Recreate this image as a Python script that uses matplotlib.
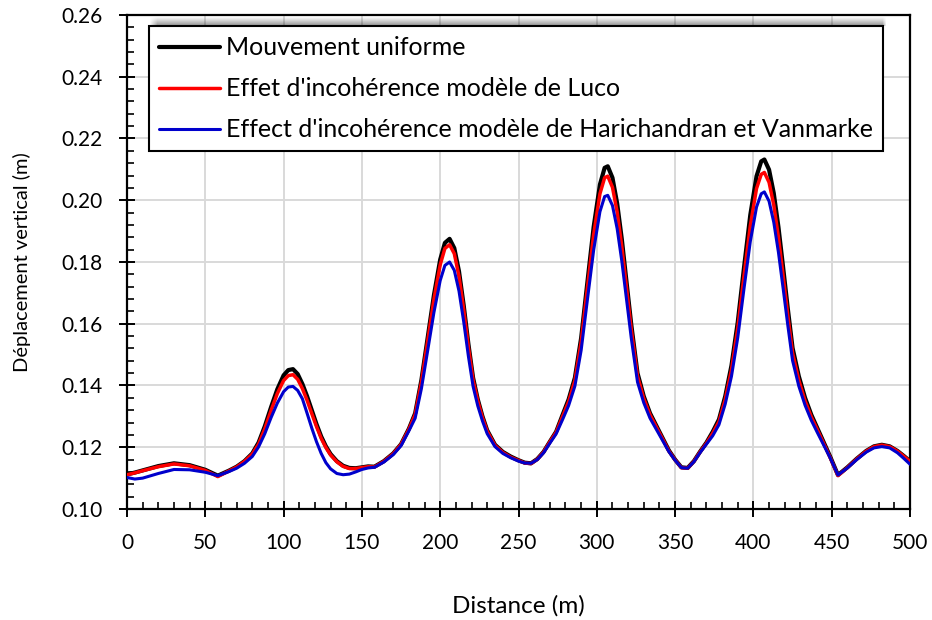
import matplotlib
matplotlib.use("Agg")
import numpy as np
import matplotlib.pyplot as plt
from matplotlib.ticker import MultipleLocator, FormatStrFormatter
from matplotlib.legend_handler import HandlerLine2D
from matplotlib.lines import Line2D

plt.rcParams['font.family'] = ['Lato', 'DejaVu Sans']

distance = [0, 5, 10, 20, 30, 40, 50, 58, 65, 70, 75, 80, 84, 88, 92, 96, 100, 103, 106, 109,
            112, 115, 118, 121, 124, 127, 130, 134, 138, 142, 146, 150, 154, 158, 164, 170, 175, 180, 184, 188,
            192, 196, 200, 203, 206, 209, 212, 215, 218, 221, 224, 227, 230, 235, 240, 245, 250, 254, 258, 262,
            266, 270, 274, 278, 282, 286, 290, 294, 298, 302, 305, 307, 310, 313, 316, 319, 322, 326, 330, 334,
            338, 342, 346, 350, 354, 358, 362, 366, 370, 374, 378, 382, 386, 390, 394, 398, 402, 405, 407, 410,
            413, 416, 419, 422, 425, 429, 433, 437, 441, 445, 449, 454, 460, 466, 472, 477, 482, 487, 492, 496, 500]

uniforme = [0.1112, 0.1118, 0.1125, 0.1139, 0.1148, 0.1142, 0.1127, 0.1108, 0.1124, 0.1137, 0.1155, 0.1180, 0.1215, 0.1268, 0.1330, 0.1388, 0.1433, 0.1450, 0.1453, 0.1437,
            0.1405, 0.1365, 0.1320, 0.1275, 0.1235, 0.1203, 0.1178, 0.1155, 0.1140, 0.1133, 0.1132, 0.1135, 0.1138, 0.1137, 0.1155, 0.1180, 0.1210, 0.1260, 0.1310, 0.1418,
            0.1555, 0.1693, 0.1808, 0.1862, 0.1875, 0.1845, 0.1770, 0.1660, 0.1535, 0.1425, 0.1355, 0.1300, 0.1255, 0.1208, 0.1185, 0.1170, 0.1158, 0.1150, 0.1148, 0.1162,
            0.1185, 0.1218, 0.1250, 0.1303, 0.1355, 0.1425, 0.1554, 0.1735, 0.1914, 0.2051, 0.2105, 0.2110, 0.2073, 0.1990, 0.1873, 0.1735, 0.1598, 0.1440, 0.1365, 0.1310,
            0.1270, 0.1230, 0.1190, 0.1160, 0.1135, 0.1133, 0.1155, 0.1186, 0.1215, 0.1250, 0.1290, 0.1365, 0.1465, 0.1605, 0.1782, 0.1952, 0.2078, 0.2126, 0.2132, 0.2099,
            0.2023, 0.1913, 0.1782, 0.1648, 0.1522, 0.1430, 0.1360, 0.1305, 0.1260, 0.1215, 0.1170, 0.1110, 0.1135, 0.1163, 0.1188, 0.1203, 0.1208, 0.1203, 0.1188, 0.1172, 0.1155]

luco = [0.1111, 0.1117, 0.1124, 0.1137, 0.1146, 0.1140, 0.1125, 0.1105, 0.1123, 0.1136, 0.1154, 0.1178, 0.1210, 0.1260, 0.1319, 0.1374, 0.1416, 0.1432, 0.1435, 0.1420,
        0.1390, 0.1352, 0.1309, 0.1267, 0.1229, 0.1199, 0.1175, 0.1153, 0.1138, 0.1131, 0.1131, 0.1134, 0.1137, 0.1136, 0.1154, 0.1179, 0.1209, 0.1258, 0.1306, 0.1411,
        0.1544, 0.1679, 0.1791, 0.1844, 0.1856, 0.1827, 0.1754, 0.1647, 0.1525, 0.1418, 0.1350, 0.1296, 0.1252, 0.1206, 0.1183, 0.1168, 0.1157, 0.1149, 0.1147, 0.1161,
        0.1184, 0.1217, 0.1248, 0.1298, 0.1348, 0.1416, 0.1541, 0.1716, 0.1889, 0.2021, 0.2073, 0.2078, 0.2042, 0.1962, 0.1849, 0.1716, 0.1583, 0.1430, 0.1358, 0.1305,
        0.1266, 0.1227, 0.1188, 0.1159, 0.1134, 0.1132, 0.1154, 0.1185, 0.1213, 0.1245, 0.1283, 0.1355, 0.1451, 0.1585, 0.1755, 0.1917, 0.2038, 0.2084, 0.2090, 0.2058,
        0.1985, 0.1880, 0.1755, 0.1626, 0.1506, 0.1417, 0.1350, 0.1298, 0.1255, 0.1211, 0.1167, 0.1108, 0.1134, 0.1162, 0.1187, 0.1202, 0.1207, 0.1202, 0.1187, 0.1171, 0.1154]

harichandran = [0.1102, 0.1097, 0.1100, 0.1115, 0.1128, 0.1127, 0.1119, 0.1108, 0.1121, 0.1132, 0.1148, 0.1170, 0.1201, 0.1244, 0.1296, 0.1343, 0.1380, 0.1395, 0.1397, 0.1384,
                0.1357, 0.1310, 0.1262, 0.1218, 0.1180, 0.1150, 0.1130, 0.1115, 0.1111, 0.1113, 0.1120, 0.1128, 0.1133, 0.1135, 0.1152, 0.1176, 0.1205, 0.1253, 0.1294, 0.1390,
                0.1513, 0.1637, 0.1740, 0.1789, 0.1800, 0.1773, 0.1706, 0.1607, 0.1495, 0.1397, 0.1334, 0.1285, 0.1244, 0.1202, 0.1180, 0.1166, 0.1155, 0.1149, 0.1148, 0.1160,
                0.1182, 0.1213, 0.1243, 0.1288, 0.1335, 0.1398, 0.1514, 0.1678, 0.1839, 0.1963, 0.2012, 0.2016, 0.1983, 0.1908, 0.1802, 0.1678, 0.1554, 0.1411, 0.1344, 0.1294,
                0.1258, 0.1222, 0.1186, 0.1158, 0.1134, 0.1132, 0.1153, 0.1183, 0.1210, 0.1237, 0.1273, 0.1340, 0.1430, 0.1555, 0.1714, 0.1866, 0.1978, 0.2021, 0.2027, 0.1997,
                0.1929, 0.1831, 0.1714, 0.1594, 0.1481, 0.1398, 0.1336, 0.1287, 0.1246, 0.1206, 0.1166, 0.1110, 0.1133, 0.1160, 0.1184, 0.1198, 0.1202, 0.1198, 0.1182, 0.1164, 0.1145]

labels = ["Mouvement uniforme",
          "Effet d'incohérence modèle de Luco",
          "Effect d'incohérence modèle de Harichandran et Vanmarke"]
colors = ["#000000", "#ff0000", "#0000cc"]
x_label = "Distance (m)"
y_label = "Déplacement vertical (m)"

assert len(distance) == len(uniforme) == len(luco) == len(harichandran)


class OffsetLineHandler(HandlerLine2D):
    """Legend line that starts a little to the right inside the handle box."""
    def create_artists(self, legend, orig_handle, xdescent, ydescent, width, height, fontsize, trans):
        artists = super().create_artists(legend, orig_handle, xdescent, ydescent, width, height, fontsize, trans)
        for a in artists:
            if isinstance(a, Line2D):
                xd = list(a.get_xdata())
                if len(xd) == 2:
                    a.set_xdata([xd[0] + 0.6 * fontsize, xd[1]])
        return artists


fig = plt.figure(figsize=(9.32, 6.20), dpi=100)
ax = fig.add_axes([127/932, 1-509/620, (910-127)/932, (509-15)/620])

for series, lab, col, lw in zip([uniforme, luco, harichandran], labels, colors, [3.0, 2.5, 2.2]):
    ax.plot(distance, series, color=col, lw=lw, label=lab, solid_capstyle='round',
            solid_joinstyle='round', zorder=3)

ax.set_xlim(0, 500)
ax.set_ylim(0.10, 0.26)
ax.xaxis.set_major_locator(MultipleLocator(50))
ax.xaxis.set_minor_locator(MultipleLocator(10))
ax.yaxis.set_major_locator(MultipleLocator(0.02))
ax.yaxis.set_minor_locator(MultipleLocator(0.004))
ax.yaxis.set_major_formatter(FormatStrFormatter('%.2f'))

ax.grid(True, which='major', color='#d9d9d9', lw=1.4, zorder=0)
ax.set_axisbelow(True)
for s in ax.spines.values():
    s.set_linewidth(1.6)
    s.set_color('black')

ax.tick_params(which='major', direction='inout', length=11, width=1.4, labelsize=15)
ax.tick_params(axis='x', which='major', pad=12)
ax.tick_params(axis='y', which='major', pad=12)
ax.tick_params(which='minor', direction='in', length=5, width=1.2)

ax.set_xlabel(x_label, fontsize=17.5, labelpad=30)
ax.set_ylabel(y_label, fontsize=14.5, labelpad=22)

leg = ax.legend(loc='upper left', bbox_to_anchor=(0.028, 0.977), borderaxespad=0,
                fancybox=False, edgecolor='black', framealpha=1, fontsize=18,
                handlelength=2.45, handletextpad=0.25, borderpad=0.4, labelspacing=0.72,
                handler_map={Line2D: OffsetLineHandler()})
leg.get_frame().set_linewidth(1.5)

# soft shadow between the legend top and the axes top (as in the reference)
fig.canvas.draw()
bb = leg.get_frame().get_window_extent(fig.canvas.get_renderer())
ax_top = ax.get_window_extent().y1
hpx = int(round(ax_top - bb.y1)) - 1
wpx = int(round(bb.width)) + 4
if hpx > 0:
    yy = np.linspace(1.0, 0.0, hpx)[:, None]          # strongest next to legend
    xx = np.clip(np.arange(wpx) / 8.0, 0, 1)[None, :]    # fade in at the left end
    xr = np.clip((wpx - 1 - np.arange(wpx)) / 4.0, 0, 1)[None, :]
    alpha = 0.42 * (yy ** 1.1) * xx * xr
    img = np.zeros((hpx, wpx, 4))
    img[..., 3] = alpha
    fig.figimage(img, xo=int(round(bb.x0)), yo=int(round(bb.y1)), origin='lower', zorder=2)

fig.savefig("out.png", dpi=100)
